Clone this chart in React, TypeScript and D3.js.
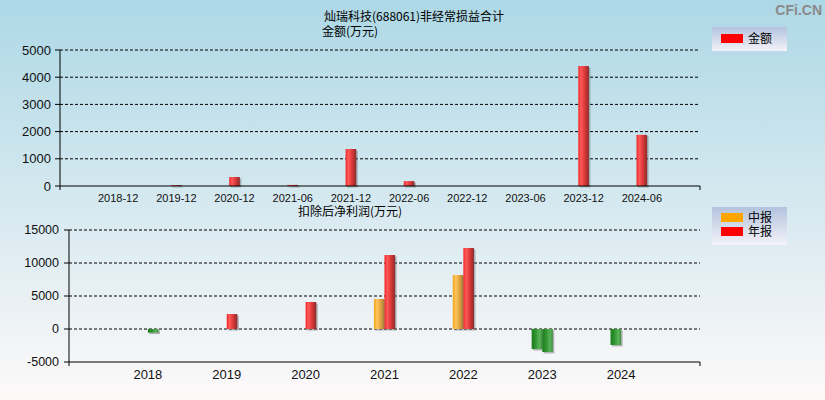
import * as d3 from 'd3';

const topCategories = ['2018-12', '2019-12', '2020-12', '2021-06', '2021-12', '2022-06', '2022-12', '2023-06', '2023-12', '2024-06'];
const topValues = [0, 35, 330, 40, 1360, 180, 0, 0, 4410, 1880];
const topTicks = [0, 1000, 2000, 3000, 4000, 5000];

const years = ['2018', '2019', '2020', '2021', '2022', '2023', '2024'];
const midValues: (number | null)[] = [null, null, null, 4550, 8180, -3030, -2420];
const annualValues: (number | null)[] = [-550, 2270, 4090, 11210, 12270, -3480, null];
const bottomTicks = [-5000, 0, 5000, 10000, 15000];

const W = 825;
const H = 400;
const FONT = 'Arial, "Liberation Sans", "Noto Sans CJK SC", sans-serif';
const CJK = '"Noto Sans CJK SC", "Liberation Sans", sans-serif';
const BAR_W = 10.6;

function Bar({ x, y0, y1, kind }: { x: number; y0: number; y1: number; kind: string }) {
  const top = Math.min(y0, y1);
  const h = Math.abs(y1 - y0);
  if (h < 0.5) return null;
  return (
    <g>
      <rect x={x + 1.5} y={top + 1.5} width={BAR_W} height={h} fill="#666" opacity={0.45} />
      <rect x={x} y={top} width={BAR_W} height={h} fill={`url(#grad-${kind})`} />
    </g>
  );
}

export default function App() {
  // top chart
  const tx = d3.scaleLinear().domain([-1, topCategories.length]).range([60, 700]);
  const ty = d3.scaleLinear().domain([0, 5000]).range([186, 50]);
  // bottom chart
  const bx = d3.scaleLinear().domain([-1, years.length]).range([69, 700]);
  const by = d3.scaleLinear().domain([-5000, 15000]).range([362, 230]);

  return (
    <svg width={W} height={H} style={{ position: 'absolute', left: 0, top: 0 }}>
      <defs>
        <linearGradient id="bg" x1="0" y1="0" x2="0" y2="1">
          <stop offset="0%" stopColor="#add8e6" />
          <stop offset="100%" stopColor="#fdf9f9" />
        </linearGradient>
        <linearGradient id="legend-bg" x1="0" y1="0" x2="0" y2="1">
          <stop offset="0%" stopColor="#b3c3de" />
          <stop offset="100%" stopColor="#f4f2f8" />
        </linearGradient>
        <linearGradient id="grad-red" x1="0" y1="0" x2="1" y2="0">
          <stop offset="0%" stopColor="#f02222" />
          <stop offset="25%" stopColor="#ff5a5a" />
          <stop offset="60%" stopColor="#dd3838" />
          <stop offset="100%" stopColor="#8c2c2c" />
        </linearGradient>
        <linearGradient id="grad-orange" x1="0" y1="0" x2="1" y2="0">
          <stop offset="0%" stopColor="#f4a418" />
          <stop offset="30%" stopColor="#ffc65c" />
          <stop offset="65%" stopColor="#e0a040" />
          <stop offset="100%" stopColor="#9a7a3a" />
        </linearGradient>
        <linearGradient id="grad-green" x1="0" y1="0" x2="1" y2="0">
          <stop offset="0%" stopColor="#1a7c1a" />
          <stop offset="35%" stopColor="#2f922f" />
          <stop offset="75%" stopColor="#58b458" />
          <stop offset="100%" stopColor="#3f8a3f" />
        </linearGradient>
      </defs>
      <rect x={0} y={0} width={W} height={H} fill="url(#bg)" />

      {/* watermark */}
      <text x={822} y={15} textAnchor="end" fontFamily={FONT} fontWeight="bold" fontSize={14} fill="#8a8a8a">CFi.CN</text>

      {/* ===== top chart ===== */}
      <text x={324} y={21} fontFamily={CJK} fontSize={12} fill="#000">灿瑞科技(688061)非经常损益合计</text>
      <text x={322} y={36} fontFamily={CJK} fontSize={12} fill="#000">金额(万元)</text>

      {topTicks.filter(t => t > 0).map(t => (
        <line key={t} x1={60} x2={700} y1={ty(t)} y2={ty(t)} stroke="#000" strokeDasharray="3,2" />
      ))}
      {topValues.map((v, i) => (
        <Bar key={i} x={tx(i) - BAR_W / 2} y0={ty(0)} y1={ty(v)} kind="red" />
      ))}
      <line x1={60} x2={60} y1={50} y2={190} stroke="#000" />
      <line x1={60} x2={700} y1={186} y2={186} stroke="#000" />
      <line x1={700} x2={700} y1={186} y2={190} stroke="#000" />
      {topTicks.map(t => (
        <g key={t}>
          <line x1={55} x2={60} y1={ty(t)} y2={ty(t)} stroke="#000" />
          <text x={51} y={ty(t)} dy="0.35em" textAnchor="end" fontFamily={FONT} fontSize={13} fill="#111">{t}</text>
        </g>
      ))}
      {topCategories.map((c, i) => (
        <text key={c} x={tx(i)} y={202} textAnchor="middle" fontFamily={FONT} fontSize={11} fill="#111">{c}</text>
      ))}

      {/* top legend */}
      <rect x={712} y={27} width={75} height={24} fill="url(#legend-bg)" />
      <rect x={721} y={34} width={22} height={9} fill="#ff0000" />
      <text x={748} y={43} fontFamily={CJK} fontSize={12} fill="#000">金额</text>

      {/* ===== bottom chart ===== */}
      <text x={298} y={216} fontFamily={CJK} fontSize={12} fill="#000">扣除后净利润(万元)</text>

      {bottomTicks.filter(t => t > -5000).map(t => (
        <line key={t} x1={69} x2={700} y1={by(t)} y2={by(t)} stroke="#000" strokeDasharray="3,2" />
      ))}
      {years.map((yr, i) => (
        <g key={yr}>
          {midValues[i] != null && (
            <Bar x={bx(i) - BAR_W} y0={by(0)} y1={by(midValues[i] as number)} kind={(midValues[i] as number) < 0 ? 'green' : 'orange'} />
          )}
          {annualValues[i] != null && (
            <Bar x={bx(i)} y0={by(0)} y1={by(annualValues[i] as number)} kind={(annualValues[i] as number) < 0 ? 'green' : 'red'} />
          )}
        </g>
      ))}
      <line x1={69} x2={69} y1={230} y2={366} stroke="#000" />
      <line x1={69} x2={700} y1={362} y2={362} stroke="#000" />
      <line x1={700} x2={700} y1={362} y2={366} stroke="#000" />
      {bottomTicks.map(t => (
        <g key={t}>
          <line x1={64} x2={69} y1={by(t)} y2={by(t)} stroke="#000" />
          <text x={59} y={by(t)} dy="0.35em" textAnchor="end" fontFamily={FONT} fontSize={12.5} fill="#111">{t}</text>
        </g>
      ))}
      {years.map((yr, i) => (
        <text key={yr} x={bx(i)} y={379} textAnchor="middle" fontFamily={FONT} fontSize={13} fill="#111">{yr}</text>
      ))}

      {/* bottom legend */}
      <rect x={712} y={207} width={75} height={38} fill="url(#legend-bg)" />
      <rect x={721} y={213} width={22} height={9} fill="#ffa500" />
      <text x={748} y={222} fontFamily={CJK} fontSize={12} fill="#000">中报</text>
      <rect x={721} y={227} width={22} height={9} fill="#ff0000" />
      <text x={748} y={236} fontFamily={CJK} fontSize={12} fill="#000">年报</text>
    </svg>
  );
}
